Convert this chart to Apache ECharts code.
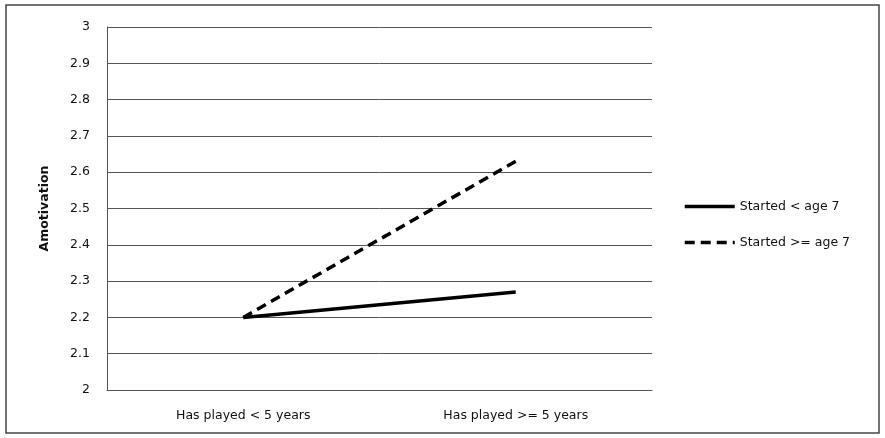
<!DOCTYPE html>
<html>
<head>
<meta charset="utf-8">
<script src="https://cdn.jsdelivr.net/npm/echarts@6/dist/echarts.min.js"></script>
<style>
html,body{margin:0;padding:0;background:#fff;}
#chart{width:885px;height:438px;}
</style>
</head>
<body>
<div id="chart"></div>
<script>
const categories = ['Has played < 5 years', 'Has played >= 5 years'];
const seriesNames = ['Started < age 7', 'Started >= age 7'];
const startedBefore7 = [2.2, 2.27];
const startedAfter7 = [2.2, 2.63];
const yTicks = { min: 2, max: 3, interval: 0.1 };

const chart = echarts.init(document.getElementById('chart'));
const font = 'DejaVu Sans';
chart.setOption({
  animation: false,
  backgroundColor: '#fff',
  graphic: [{
    type: 'rect',
    shape: { x: 6, y: 5, width: 873, height: 428 },
    style: { fill: 'none', stroke: '#444', lineWidth: 1.5 }
  }],
  grid: { left: 107, right: 233, top: 27, bottom: 48, containLabel: false },
  legend: {
    orient: 'vertical',
    left: 683,
    top: 200,
    padding: 0,
    itemWidth: 50,
    itemHeight: 12,
    itemGap: 23,
    itemStyle: { opacity: 0 },
    lineStyle: { width: 3.5 },
    textStyle: { fontFamily: font, fontSize: 12.5, color: '#111' },
    data: seriesNames
  },
  xAxis: {
    type: 'category',
    data: categories,
    boundaryGap: true,
    axisLine: { lineStyle: { color: '#555', width: 1 } },
    axisTick: { show: false },
    axisLabel: { fontFamily: font, fontSize: 12.5, color: '#111', margin: 19 }
  },
  yAxis: {
    type: 'value',
    min: yTicks.min,
    max: yTicks.max,
    interval: yTicks.interval,
    name: 'Amotivation',
    nameLocation: 'middle',
    nameGap: 56,
    nameTextStyle: { fontFamily: font, fontSize: 12.5, fontWeight: 'bold', color: '#111' },
    axisLine: { show: true, lineStyle: { color: '#555', width: 1 } },
    axisTick: { show: false },
    axisLabel: { fontFamily: font, fontSize: 12.5, color: '#111', margin: 17 },
    splitLine: { lineStyle: { color: '#555', width: 1 } }
  },
  series: [
    {
      name: seriesNames[0],
      type: 'line',
      data: startedBefore7,
      symbol: 'none',
      lineStyle: { color: '#000', width: 3.5, type: 'solid' },
      itemStyle: { color: '#000' }
    },
    {
      name: seriesNames[1],
      type: 'line',
      data: startedAfter7,
      symbol: 'none',
      lineStyle: { color: '#000', width: 3.5, type: [10, 6] },
      itemStyle: { color: '#000' }
    }
  ]
});
</script>
</body>
</html>
